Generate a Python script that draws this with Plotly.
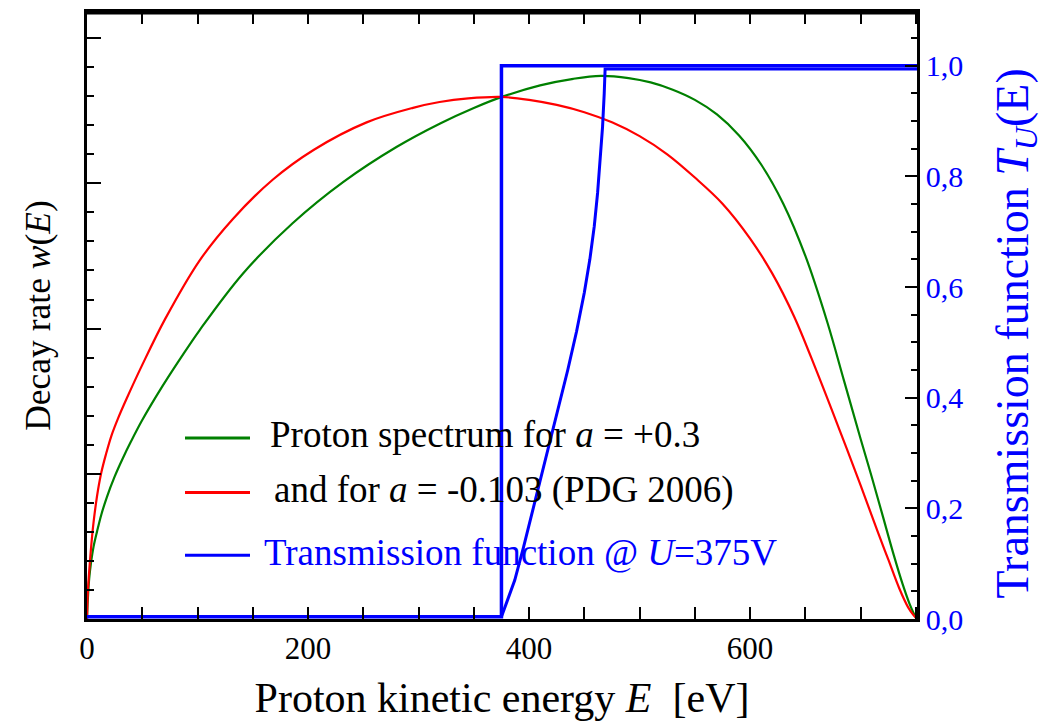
import plotly.graph_objects as go

# Proton recoil spectra (arbitrary units on the left axis)
energy_a_plus = [0, 0.5, 1, 2, 3.5, 6, 9, 13, 18, 25, 32, 40, 50, 68, 85, 102, 141, 186,
                 232, 280, 320, 350, 376, 410, 440, 465, 490, 510, 530, 550, 570, 590,
                 610, 630, 650, 670, 685, 700, 710, 720, 730, 738, 744, 748, 751]
rate_a_plus = [0, 0.10, 0.17, 0.28, 0.38, 0.50, 0.60, 0.72, 0.84, 0.98, 1.10, 1.225,
               1.37, 1.60, 1.80, 1.99, 2.378, 2.725, 3.01, 3.25, 3.414, 3.519, 3.597,
               3.675, 3.72, 3.74, 3.725, 3.695, 3.645, 3.575, 3.475, 3.33, 3.13, 2.86,
               2.50, 2.04, 1.64, 1.24, 0.98, 0.71, 0.44, 0.24, 0.11, 0.04, 0]

energy_a_pdg = [0, 0.5, 1, 2, 3, 4.5, 6, 8, 10, 13, 17, 22, 28, 36, 50, 71, 102, 132,
                168, 205, 253, 295, 319, 345, 375, 400, 425, 450, 475, 500, 525, 550,
                575, 600, 620, 640, 660, 680, 700, 715, 725, 735, 743, 748, 751]
rate_a_pdg = [0, 0.14, 0.22, 0.33, 0.43, 0.56, 0.67, 0.79, 0.89, 1.01, 1.13, 1.26, 1.38,
              1.52, 1.75, 2.07, 2.47, 2.755, 3.025, 3.23, 3.42, 3.52, 3.56, 3.585, 3.595,
              3.575, 3.54, 3.49, 3.42, 3.325, 3.20, 3.04, 2.86, 2.62, 2.38, 2.08, 1.71,
              1.32, 0.92, 0.61, 0.41, 0.21, 0.08, 0.025, 0]

# Transmission functions (right axis)
step_energy = [0, 375, 375, 751]
step_trans = [0.004, 0.004, 1.0, 1.0]

adiab_energy = [375, 380, 387, 395, 405, 415, 425, 435, 443, 450, 455, 459, 462, 464.5,
                466.5, 468, 468.8, 751]
adiab_trans = [0.004, 0.03, 0.07, 0.13, 0.21, 0.29, 0.37, 0.45, 0.52, 0.59, 0.65, 0.71,
               0.77, 0.83, 0.89, 0.95, 0.994, 0.994]

x_ticks = [0, 200, 400, 600]
t_ticks = [0.0, 0.2, 0.4, 0.6, 0.8, 1.0]

GREEN = "#008000"
RED = "#ff0000"
BLUE = "#0000ff"
SERIF = "Liberation Serif, Times New Roman, serif"

fig = go.Figure()
fig.add_trace(go.Scatter(x=energy_a_plus, y=rate_a_plus, mode="lines",
                         name="Proton spectrum for a = +0.3",
                         line=dict(color=GREEN, width=2.2, shape="spline", smoothing=1.0)))
fig.add_trace(go.Scatter(x=energy_a_pdg, y=rate_a_pdg, mode="lines",
                         name="and for a = -0.103 (PDG 2006)",
                         line=dict(color=RED, width=2.2, shape="spline", smoothing=1.0)))
fig.add_trace(go.Scatter(x=step_energy, y=step_trans, mode="lines", yaxis="y2",
                         name="Transmission function (sharp)",
                         line=dict(color=BLUE, width=3.5)))
fig.add_trace(go.Scatter(x=adiab_energy, y=adiab_trans, mode="lines", yaxis="y2",
                         name="Transmission function @ U=375V",
                         line=dict(color=BLUE, width=3)))

# Plot frame in pixels
L, R, T, B = 87, 917, 9, 619
def px(x):
    return (x - L) / (R - L)
def py(y):
    return (B - y) / (B - T)

legend_rows = [
    (437, GREEN, 268, "Proton spectrum for <i>a</i> = +0.3", "black"),
    (492, RED, 272, "and for <i>a</i> = -0.103 (PDG 2006)", "black"),
    (555, BLUE, 262, "Transmission function @ <i>U</i>=375V", BLUE),
]
# top edge of the frame, drawn just inside the plot area
shapes = [dict(type="line", xref="paper", yref="paper", x0=0, x1=1,
               y0=py(10), y1=py(10), layer="above",
               line=dict(color="black", width=3))]
annotations = []
for y, col, tx, label, tcol in legend_rows:
    shapes.append(dict(type="line", xref="paper", yref="paper",
                       x0=px(185), x1=px(250), y0=py(y), y1=py(y),
                       line=dict(color=col, width=3)))
    annotations.append(dict(xref="paper", yref="paper", x=px(tx), y=py(y - 3),
                            text=label, showarrow=False, xanchor="left", yanchor="middle",
                            font=dict(family=SERIF, size=37, color=tcol)))

# right-hand axis title
annotations.append(dict(xref="paper", yref="paper", x=px(1016), y=py(332),
                        text="Transmission function <i>T</i><sub><i>U</i></sub>(E)",
                        textangle=-90, showarrow=False, xanchor="center", yanchor="middle",
                        font=dict(family=SERIF, size=46, color=BLUE)))

tick_style = dict(ticks="inside", tickwidth=2, tickcolor="black", showgrid=False,
                  zeroline=False, showline=True, linewidth=2.5, linecolor="black")

fig.update_layout(
    width=1045, height=726,
    margin=dict(l=L, r=1045 - R, t=T, b=726 - B),
    paper_bgcolor="white", plot_bgcolor="white",
    showlegend=False,
    separators=", ",
    font=dict(family=SERIF, color="black"),
    shapes=shapes,
    annotations=annotations,
    xaxis=dict(
        range=[0, 751], tickvals=x_ticks, ticklen=12, mirror="allticks", **tick_style,
        tickfont=dict(size=31, color="black"),
        minor=dict(dtick=50, tick0=0, ticks="inside", ticklen=6, tickwidth=2,
                   tickcolor="black", showgrid=False),
        title=dict(text="Proton kinetic energy <i>E</i>\u00a0 [eV]",
                   font=dict(size=42, color="black"), standoff=18),
    ),
    yaxis=dict(
        range=[0, 4.18], dtick=1, tick0=0, ticklen=14, showticklabels=False, **tick_style,
        minor=dict(dtick=0.2, tick0=0, ticks="inside", ticklen=7, tickwidth=2,
                   tickcolor="black", showgrid=False),
        title=dict(text="Decay rate <i>w</i>(<i>E</i>)",
                   font=dict(size=35.5, color="black"), standoff=23),
    ),
    yaxis2=dict(
        overlaying="y", side="right", range=[0, 1.097], tickvals=t_ticks,
        tickformat=".1f", ticklen=12, **tick_style,
        tickfont=dict(size=30, color=BLUE),
        minor=dict(dtick=0.05, tick0=0, ticks="inside", ticklen=6, tickwidth=2,
                   tickcolor="black", showgrid=False),
    ),
)

fig.write_html("out.html")
